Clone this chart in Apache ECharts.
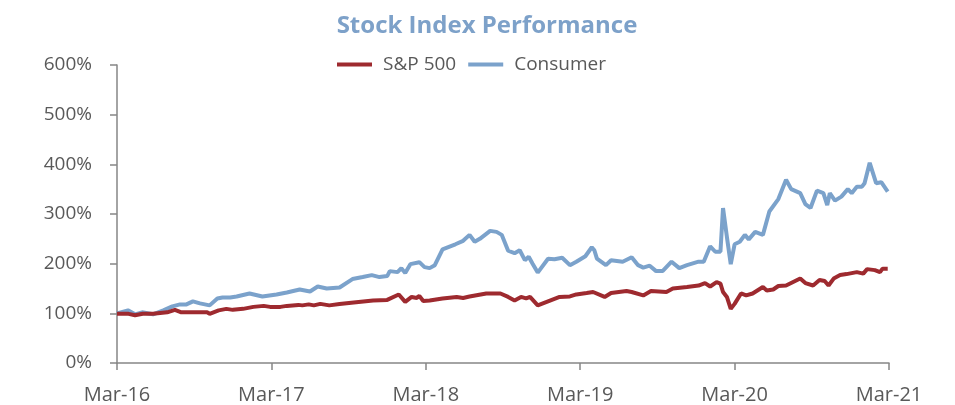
<!DOCTYPE html>
<html>
<head>
<meta charset="utf-8">
<script src="https://cdn.jsdelivr.net/npm/echarts@6/dist/echarts.min.js"></script>
<style>
  html, body { margin: 0; padding: 0; background: #fff; }
  #chart { width: 955px; height: 405px; }
</style>
</head>
<body>
<div id="chart"></div>
<script>
// months since Mar-16, values in % (100 = start)
const xLabels = ["Mar-16", "Mar-17", "Mar-18", "Mar-19", "Mar-20", "Mar-21"];
const yTicks = [0, 100, 200, 300, 400, 500, 600];

const spxMonths = [0, 0.9, 1.4, 2.0, 2.8, 3.9, 4.5, 5.0, 5.9, 7.0, 7.2, 7.9, 8.5, 9.0, 9.8, 10.6, 11.4, 11.9,
  12.7, 13.2, 14.1, 14.4, 14.9, 15.3, 15.8, 16.5, 17.3, 18.4, 19.9, 21.0, 21.9, 22.4, 22.9, 23.3, 23.5, 23.8,
  24.3, 25.3, 26.4, 26.9, 27.4, 28.7, 29.8, 30.4, 30.9, 31.4, 31.8, 32.1, 32.7, 33.4, 34.4, 35.2, 35.7,
  36.5, 37.0, 37.9, 38.4, 39.6, 40.0, 40.9, 41.5, 42.7, 43.2, 44.3, 45.2, 45.7, 46.1, 46.6, 46.9, 47.1,
  47.4, 47.7, 48.0, 48.5, 48.9, 49.4, 50.2, 50.5, 51.0, 51.4, 52.0, 53.1, 53.5, 54.1, 54.6, 55.0, 55.3,
  55.7, 56.2, 56.7, 57.5, 58.0, 58.3, 58.9, 59.3, 59.5, 59.9];
const spxValues = [99, 99, 96, 99, 99, 102, 107, 102, 102, 102, 99, 106, 109, 107, 109, 113, 115, 113,
  113, 115, 117, 116, 118, 116, 119, 116, 119, 122, 126, 127, 138, 123, 133, 131, 135, 125,
  126, 130, 133, 131, 134, 140, 140, 133, 126, 133, 130, 133, 116, 123, 133, 134, 138,
  141, 143, 133, 141, 145, 143, 136, 145, 143, 150, 153, 156, 161, 154, 163, 160, 143,
  133, 109, 119, 140, 136, 140, 153, 146, 148, 155, 156, 170, 161, 156, 167, 165, 156,
  170, 177, 179, 183, 180, 189, 187, 183, 190, 190];

const consumerMonths = [0, 0.85, 1.4, 1.95, 2.8, 3.6, 4.3, 4.9, 5.4, 5.9, 6.45, 7.2, 7.8, 8.2, 8.8, 9.3,
  10.3, 11.3, 12.4, 13.2, 14.2, 15.0, 15.6, 16.3, 17.3, 18.3, 19.1, 19.8, 20.4, 21.0, 21.2, 21.8, 22.1,
  22.4, 22.8, 23.5, 23.9, 24.3, 24.7, 25.3, 25.7, 26.3, 26.9, 27.4, 27.8, 28.2, 29.0, 29.5, 29.9, 30.4,
  30.9, 31.3, 31.7, 32.0, 32.3, 32.7, 33.5, 34.0, 34.6, 35.2, 35.7, 36.4, 36.9, 37.1, 37.3, 38.0, 38.4,
  39.3, 40.0, 40.5, 40.9, 41.4, 41.9, 42.4, 43.1, 43.7, 44.3, 45.2, 45.6, 46.1, 46.5, 46.9, 47.1, 47.4,
  47.7, 48.0, 48.4, 48.8, 49.1, 49.6, 50.2, 50.7, 51.4, 52.0, 52.4, 53.1, 53.5, 53.9, 54.4, 54.9, 55.2,
  55.4, 55.8, 56.3, 56.8, 57.1, 57.5, 57.9, 58.1, 58.5, 59.0, 59.4, 59.9];
const consumerValues = [100, 106, 98, 102, 98, 106, 114, 118, 118, 124, 120, 116, 130, 132, 132, 134,
  140, 134, 138, 142, 148, 144, 154, 150, 152, 169, 173, 177, 173, 175, 185, 183, 191,
  181, 199, 203, 193, 191, 197, 229, 233, 239, 246, 258, 244, 250, 266, 264, 258, 226,
  221, 227, 207, 214, 200, 182, 210, 209, 212, 197, 204, 215, 233, 227, 210, 197, 207,
  204, 213, 197, 192, 196, 185, 185, 204, 191, 197, 204, 204, 235, 224, 224, 312, 254,
  199, 239, 244, 258, 249, 264, 258, 305, 330, 369, 350, 342, 320, 312, 347, 342, 318,
  342, 327, 335, 350, 342, 355, 355, 362, 403, 362, 364, 345];

const pairs = (xs, ys) => xs.map((x, i) => [x, ys[i]]);

const chart = echarts.init(document.getElementById("chart"));
const font = "'Open Sans', sans-serif";
const axisColor = "#868686";
const labelColor = "#595959";

chart.setOption({
  animation: false,
  title: {
    text: "Stock Index Performance",
    left: 482,
    textAlign: "center",
    top: 9,
    textStyle: { color: "#7DA1C9", fontSize: 24, fontWeight: "bold", fontFamily: font }
  },
  legend: {
    top: 50,
    left: 332,
    icon: "rect",
    itemWidth: 35,
    itemHeight: 4,
    itemGap: 12,
    textStyle: { color: labelColor, fontSize: 19, fontFamily: font, padding: [0, 0, 0, 6] },
    data: ["S&P 500", "Consumer"]
  },
  grid: { left: 117, right: 66, top: 65, bottom: 42 },
  xAxis: {
    type: "value",
    min: 0,
    max: 60,
    interval: 12,
    axisLine: { lineStyle: { color: axisColor, width: 1.5 } },
    axisTick: { show: true, length: 7, lineStyle: { color: axisColor, width: 1.5 } },
    splitLine: { show: false },
    axisLabel: {
      color: labelColor,
      fontSize: 20,
      fontFamily: font,
      margin: 22,
      formatter: v => xLabels[Math.round(v / 12)]
    }
  },
  yAxis: {
    type: "value",
    min: yTicks[0],
    max: yTicks[yTicks.length - 1],
    interval: 100,
    axisLine: { show: true, lineStyle: { color: axisColor, width: 1.5 } },
    axisTick: { show: true, length: 7, lineStyle: { color: axisColor, width: 1.5 } },
    splitLine: { show: false },
    axisLabel: { color: labelColor, fontSize: 19, fontFamily: font, margin: 25, formatter: "{value}%" }
  },
  series: [
    {
      name: "S&P 500",
      type: "line",
      data: pairs(spxMonths, spxValues),
      showSymbol: false,
      z: 3,
      itemStyle: { color: "#9E2A2F" },
      lineStyle: { color: "#9E2A2F", width: 4 }
    },
    {
      name: "Consumer",
      type: "line",
      data: pairs(consumerMonths, consumerValues),
      showSymbol: false,
      z: 2,
      itemStyle: { color: "#7BA2CB" },
      lineStyle: { color: "#7BA2CB", width: 4 }
    }
  ]
});
</script>
</body>
</html>
